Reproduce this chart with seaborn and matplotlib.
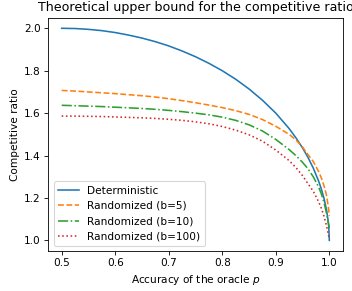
import matplotlib
matplotlib.use("Agg")
import matplotlib.pyplot as plt
import seaborn as sns

# accuracy of the oracle
p = [0.5, 0.525, 0.55, 0.575, 0.6, 0.625, 0.65, 0.675, 0.7, 0.725, 0.75, 0.775,
     0.8, 0.825, 0.85, 0.875, 0.9, 0.925, 0.9375, 0.95, 0.96, 0.97, 0.98,
     0.985, 0.99, 0.995, 0.998, 0.999, 1.0]

deterministic = [2.000, 1.999, 1.995, 1.989, 1.980, 1.968, 1.954, 1.937, 1.917, 1.893,
                 1.866, 1.835, 1.800, 1.760, 1.714, 1.661, 1.600, 1.527, 1.484, 1.436,
                 1.392, 1.341, 1.280, 1.243, 1.199, 1.141, 1.089, 1.063, 1.000]
rand_b5 = [1.707, 1.704, 1.700, 1.696, 1.692, 1.687, 1.682, 1.676, 1.668, 1.659,
           1.649, 1.638, 1.626, 1.612, 1.594, 1.570, 1.538, 1.500, 1.474, 1.440,
           1.405, 1.372, 1.325, 1.295, 1.258, 1.210, 1.160, 1.140, 1.115]
rand_b10 = [1.637, 1.635, 1.633, 1.631, 1.628, 1.625, 1.622, 1.618, 1.613, 1.607,
            1.600, 1.592, 1.581, 1.566, 1.545, 1.516, 1.476, 1.428, 1.400, 1.368,
            1.338, 1.300, 1.252, 1.220, 1.180, 1.125, 1.085, 1.072, 1.060]
rand_b100 = [1.586, 1.586, 1.585, 1.584, 1.582, 1.580, 1.578, 1.575, 1.571, 1.566,
             1.559, 1.550, 1.537, 1.520, 1.498, 1.468, 1.426, 1.376, 1.344, 1.305,
             1.268, 1.232, 1.182, 1.152, 1.115, 1.066, 1.030, 1.018, 1.005]

series = [
    ("Deterministic", deterministic, "C0", "-"),
    ("Randomized (b=5)", rand_b5, "C1", "--"),
    ("Randomized (b=10)", rand_b10, "C2", "-."),
    ("Randomized (b=100)", rand_b100, "C3", ":"),
]

dpi = 76
fig, ax = plt.subplots(figsize=(352 / dpi, 291 / dpi), dpi=dpi)
fig.subplots_adjust(left=48.3 / 352, right=342.7 / 352,
                    bottom=(291 - 251) / 291, top=(291 - 17.7) / 291)

for label, values, color, ls in series:
    sns.lineplot(x=p, y=values, ax=ax, color=color, linestyle=ls, label=label)

ax.set_title("Theoretical upper bound for the competitive ratio")
ax.set_xlabel("Accuracy of the oracle $p$")
ax.set_ylabel("Competitive ratio")
ax.legend(loc="lower left")

fig.savefig("out.png", dpi=dpi)
